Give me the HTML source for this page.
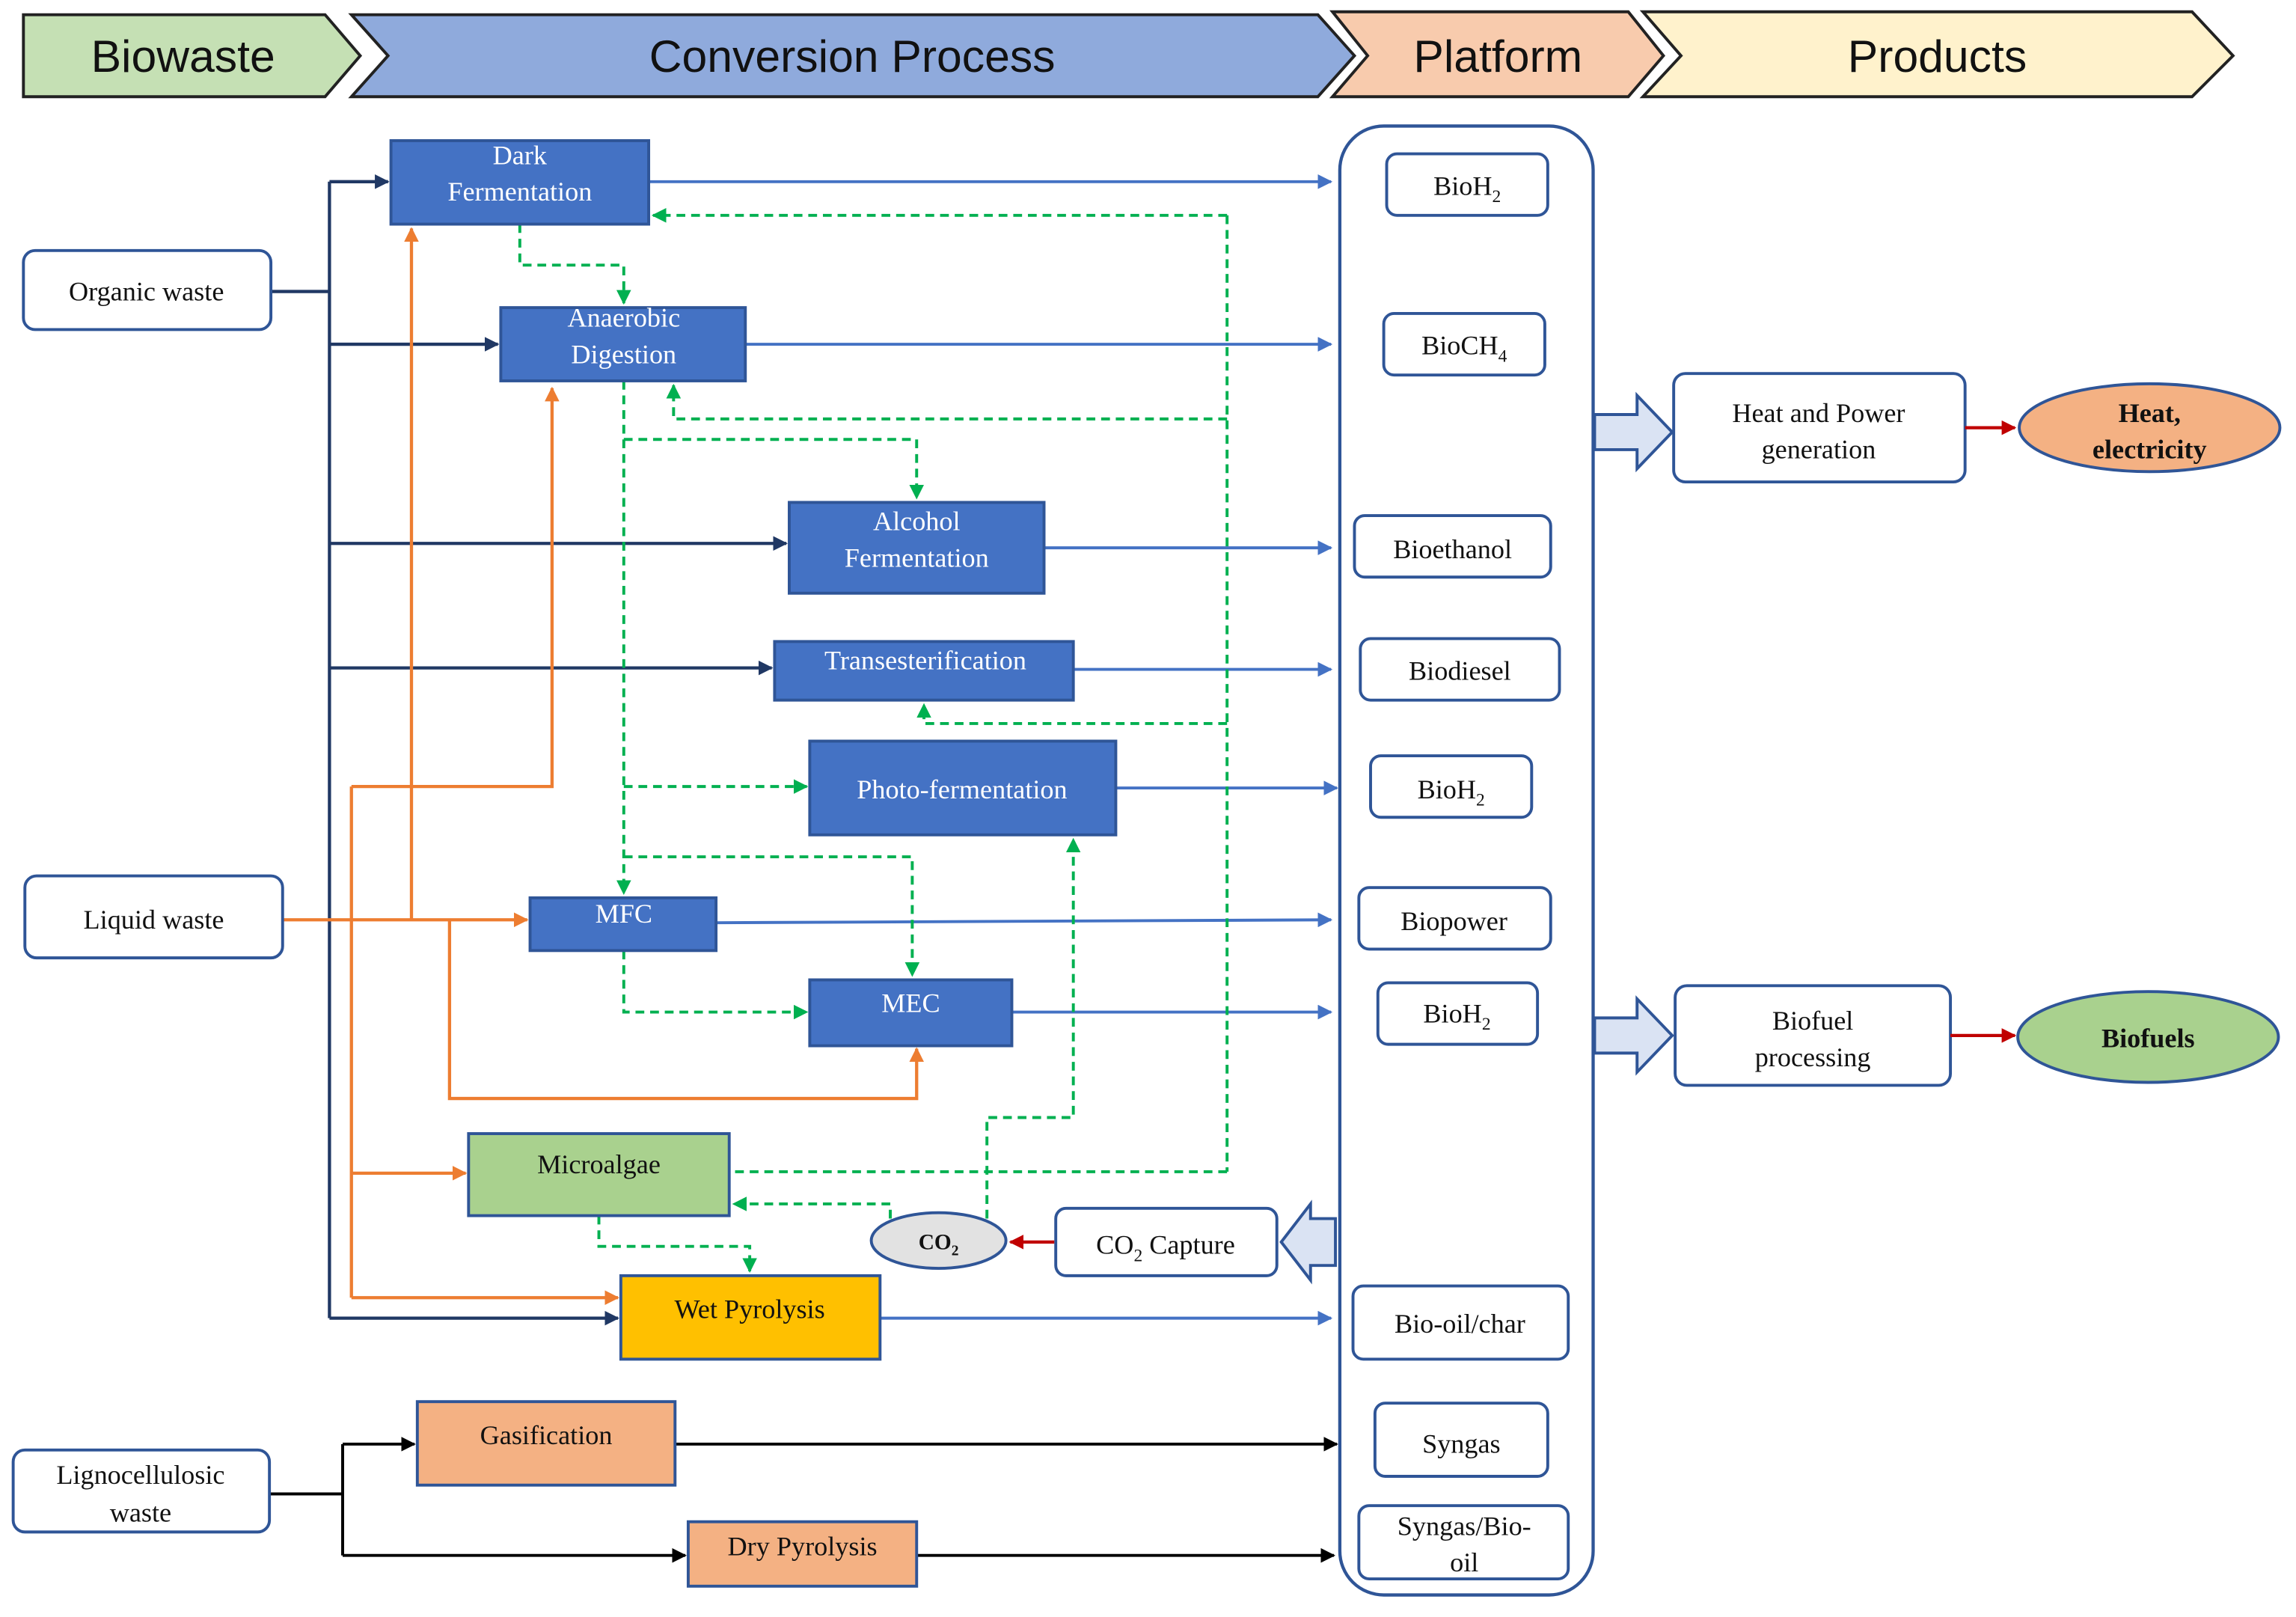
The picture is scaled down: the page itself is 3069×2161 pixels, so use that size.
<!DOCTYPE html>
<html><head><meta charset="utf-8">
<style>
html,body{margin:0;padding:0;background:#fff;}
svg{display:block;}
text{font-family:"Liberation Serif",serif;}
.h{font-family:"Liberation Sans",sans-serif;font-size:31px;fill:#111;text-anchor:middle;}
.w{fill:#fff;font-size:18.5px;text-anchor:middle;}
.k{fill:#111;font-size:18.5px;text-anchor:middle;}
.pb{fill:#4472c4;stroke:#2f5597;stroke-width:2;}
.ib{fill:#fff;stroke:#2f5597;stroke-width:2;}
.nv{stroke:#203864;stroke-width:2.2;fill:none;}
.or{stroke:#ed7d31;stroke-width:2.2;fill:none;}
.bl{stroke:#4472c4;stroke-width:2;fill:none;}
.bk{stroke:#000;stroke-width:2;fill:none;}
.gd{stroke:#00b050;stroke-width:2;fill:none;stroke-dasharray:6,4;}
</style></head><body>
<svg width="3069" height="2161" viewBox="0 0 1568 1104" xmlns="http://www.w3.org/2000/svg">
<defs>
<marker id="aN" markerWidth="10" markerHeight="10" refX="9" refY="5" orient="auto" markerUnits="userSpaceOnUse"><path d="M0,0 L10,5 L0,10z" fill="#203864"/></marker>
<marker id="aO" markerWidth="10" markerHeight="10" refX="9" refY="5" orient="auto" markerUnits="userSpaceOnUse"><path d="M0,0 L10,5 L0,10z" fill="#ed7d31"/></marker>
<marker id="aB" markerWidth="10" markerHeight="10" refX="9" refY="5" orient="auto" markerUnits="userSpaceOnUse"><path d="M0,0 L10,5 L0,10z" fill="#4472c4"/></marker>
<marker id="aK" markerWidth="10" markerHeight="10" refX="9" refY="5" orient="auto" markerUnits="userSpaceOnUse"><path d="M0,0 L10,5 L0,10z" fill="#000"/></marker>
<marker id="aG" markerWidth="10" markerHeight="10" refX="9" refY="5" orient="auto" markerUnits="userSpaceOnUse"><path d="M0,0 L10,5 L0,10z" fill="#00b050"/></marker>
<marker id="aR" markerWidth="10" markerHeight="10" refX="9" refY="5" orient="auto" markerUnits="userSpaceOnUse"><path d="M0,0 L10,5 L0,10z" fill="#c00000"/></marker>
</defs>

<!-- header chevrons -->
<path d="M16,10 L222,10 L246,38 L222,66 L16,66z" fill="#c5e0b4" stroke="#222" stroke-width="2"/>
<path d="M240,10 L900,10 L925,38 L900,66 L240,66 L265,38z" fill="#8faadc" stroke="#222" stroke-width="2"/>
<path d="M910,8 L1112,8 L1136,38 L1112,66 L910,66 L934,38z" fill="#f8cbad" stroke="#222" stroke-width="2"/>
<path d="M1122,8 L1497,8 L1525,38 L1497,66 L1122,66 L1148,38z" fill="#fff2cc" stroke="#222" stroke-width="2"/>
<text class="h" x="125" y="49">Biowaste</text>
<text class="h" x="582" y="49">Conversion Process</text>
<text class="h" x="1023" y="49">Platform</text>
<text class="h" x="1323" y="49">Products</text>

<!-- platform container -->
<rect x="915" y="86" width="173" height="1003" rx="30" fill="#fff" stroke="#2f5597" stroke-width="2.2"/>

<!-- navy trunk -->
<path class="nv" d="M185,199 L225,199 M225,124 L225,900"/>
<path class="nv" d="M225,124 L265,124" marker-end="url(#aN)"/>
<path class="nv" d="M225,235 L340,235" marker-end="url(#aN)"/>
<path class="nv" d="M225,371 L537,371" marker-end="url(#aN)"/>
<path class="nv" d="M225,456 L527,456" marker-end="url(#aN)"/>
<path class="nv" d="M225,900 L422,900" marker-end="url(#aN)"/>

<!-- orange -->
<path class="or" d="M193,628 L360,628" marker-end="url(#aO)"/>
<path class="or" d="M281,628 L281,156" marker-end="url(#aO)"/>
<path class="or" d="M240,628 L240,886 M240,537 L240,628 M240,537 L377,537 L377,265" marker-end="url(#aO)"/>
<path class="or" d="M240,801 L318,801" marker-end="url(#aO)"/>
<path class="or" d="M240,886 L422,886" marker-end="url(#aO)"/>
<path class="or" d="M307,628 L307,750 L626,750 L626,716" marker-end="url(#aO)"/>

<!-- black -->
<path class="bk" d="M184,1020 L234,1020 M234,986 L234,1062"/>
<path class="bk" d="M234,986 L283,986" marker-end="url(#aK)"/>
<path class="bk" d="M234,1062 L468,1062" marker-end="url(#aK)"/>
<path class="bk" d="M461,986 L913,986" marker-end="url(#aK)"/>
<path class="bk" d="M626,1062 L911,1062" marker-end="url(#aK)"/>

<!-- blue outputs -->
<path class="bl" d="M443,124 L909,124" marker-end="url(#aB)"/>
<path class="bl" d="M509,235 L909,235" marker-end="url(#aB)"/>
<path class="bl" d="M713,374 L909,374" marker-end="url(#aB)"/>
<path class="bl" d="M733,457 L909,457" marker-end="url(#aB)"/>
<path class="bl" d="M762,538 L913,538" marker-end="url(#aB)"/>
<path class="bl" d="M489,630 L909,628" marker-end="url(#aB)"/>
<path class="bl" d="M691,691 L909,691" marker-end="url(#aB)"/>
<path class="bl" d="M601,900 L909,900" marker-end="url(#aB)"/>

<!-- green dashed -->
<path class="gd" d="M355,153 L355,181 L426,181 L426,207" marker-end="url(#aG)"/>
<path class="gd" d="M838,147 L838,800"/>
<path class="gd" d="M838,147 L446,147" marker-end="url(#aG)"/>
<path class="gd" d="M838,286 L460,286 L460,263" marker-end="url(#aG)"/>
<path class="gd" d="M838,494 L631,494 L631,481" marker-end="url(#aG)"/>
<path class="gd" d="M838,800 L498,800"/>
<path class="gd" d="M426,260 L426,610" marker-end="url(#aG)"/>
<path class="gd" d="M426,300 L626,300 L626,340" marker-end="url(#aG)"/>
<path class="gd" d="M426,537 L551,537" marker-end="url(#aG)"/>
<path class="gd" d="M426,585 L623,585 L623,666" marker-end="url(#aG)"/>
<path class="gd" d="M426,649 L426,691 L551,691" marker-end="url(#aG)"/>
<path class="gd" d="M608,832 L608,822 L501,822" marker-end="url(#aG)"/>
<path class="gd" d="M674,832 L674,763 L733,763 L733,573" marker-end="url(#aG)"/>
<path class="gd" d="M409,830 L409,851 L512,851 L512,868" marker-end="url(#aG)"/>

<!-- process boxes -->
<rect class="pb" x="267" y="96" width="176" height="57"/>
<text class="w" x="355" y="112">Dark</text><text class="w" x="355" y="137">Fermentation</text>
<rect class="pb" x="342" y="210" width="167" height="50"/>
<text class="w" x="426" y="223">Anaerobic</text><text class="w" x="426" y="248">Digestion</text>
<rect class="pb" x="539" y="343" width="174" height="62"/>
<text class="w" x="626" y="362">Alcohol</text><text class="w" x="626" y="387">Fermentation</text>
<rect class="pb" x="529" y="438" width="204" height="40"/>
<text class="w" x="632" y="457">Transesterification</text>
<rect class="pb" x="553" y="506" width="209" height="64"/>
<text class="w" x="657" y="545">Photo-fermentation</text>
<rect class="pb" x="362" y="613" width="127" height="36"/>
<text class="w" x="426" y="630">MFC</text>
<rect class="pb" x="553" y="669" width="138" height="45"/>
<text class="w" x="622" y="691">MEC</text>
<rect x="320" y="774" width="178" height="56" fill="#a9d18e" stroke="#2f5597" stroke-width="2"/>
<text class="k" x="409" y="801">Microalgae</text>
<rect x="424" y="871" width="177" height="57" fill="#ffc000" stroke="#2f5597" stroke-width="2"/>
<text class="k" x="512" y="900">Wet Pyrolysis</text>
<rect x="285" y="957" width="176" height="57" fill="#f4b183" stroke="#2f5597" stroke-width="2"/>
<text class="k" x="373" y="986">Gasification</text>
<rect x="470" y="1039" width="156" height="44" fill="#f4b183" stroke="#2f5597" stroke-width="2"/>
<text class="k" x="548" y="1062">Dry Pyrolysis</text>

<!-- input boxes -->
<rect class="ib" x="16" y="171" width="169" height="54" rx="8"/>
<text class="k" x="100" y="205">Organic waste</text>
<rect class="ib" x="17" y="598" width="176" height="56" rx="8"/>
<text class="k" x="105" y="634">Liquid waste</text>
<rect class="ib" x="9" y="990" width="175" height="56" rx="8"/>
<text class="k" x="96" y="1013">Lignocellulosic</text><text class="k" x="96" y="1039">waste</text>

<!-- platform items -->
<rect class="ib" x="947" y="105" width="110" height="42" rx="7"/>
<text class="k" x="1002" y="133">BioH<tspan font-size="12" dy="5">2</tspan></text>
<rect class="ib" x="945" y="214" width="110" height="42" rx="7"/>
<text class="k" x="1000" y="242">BioCH<tspan font-size="12" dy="5">4</tspan></text>
<rect class="ib" x="925" y="352" width="134" height="42" rx="7"/>
<text class="k" x="992" y="381">Bioethanol</text>
<rect class="ib" x="929" y="436" width="136" height="42" rx="7"/>
<text class="k" x="997" y="464">Biodiesel</text>
<rect class="ib" x="936" y="516" width="110" height="42" rx="7"/>
<text class="k" x="991" y="545">BioH<tspan font-size="12" dy="5">2</tspan></text>
<rect class="ib" x="928" y="606" width="131" height="42" rx="7"/>
<text class="k" x="993" y="635">Biopower</text>
<rect class="ib" x="941" y="671" width="109" height="42" rx="7"/>
<text class="k" x="995" y="698">BioH<tspan font-size="12" dy="5">2</tspan></text>
<rect class="ib" x="924" y="878" width="147" height="50" rx="7"/>
<text class="k" x="997" y="910">Bio-oil/char</text>
<rect class="ib" x="939" y="958" width="118" height="50" rx="7"/>
<text class="k" x="998" y="992">Syngas</text>
<rect class="ib" x="928" y="1028" width="143" height="50" rx="7"/>
<text class="k" x="1000" y="1048">Syngas/Bio-</text><text class="k" x="1000" y="1073">oil</text>

<!-- CO2 -->
<rect class="ib" x="721" y="825" width="151" height="46" rx="7"/>
<text class="k" x="796" y="856">CO<tspan font-size="12" dy="5">2</tspan><tspan dy="-5"> Capture</tspan></text>
<path d="M912,832 L895,832 L895,822 L875,848 L895,874 L895,864 L912,864z" fill="#dae3f3" stroke="#2f5597" stroke-width="2"/>
<path d="M720,848 L690,848" stroke="#c00000" stroke-width="2.2" marker-end="url(#aR)"/>
<ellipse cx="641" cy="847" rx="46" ry="19" fill="#e2e2e2" stroke="#2f5597" stroke-width="2"/>
<text x="641" y="853" font-size="15" font-weight="bold" text-anchor="middle" fill="#111">CO<tspan font-size="10" dy="4">2</tspan></text>

<!-- right side -->
<path d="M1089,283 L1118,283 L1118,270 L1142,295 L1118,320 L1118,307 L1089,307z" fill="#dae3f3" stroke="#2f5597" stroke-width="2"/>
<path d="M1089,695 L1118,695 L1118,682 L1142,707 L1118,732 L1118,719 L1089,719z" fill="#dae3f3" stroke="#2f5597" stroke-width="2"/>
<rect class="ib" x="1143" y="255" width="199" height="74" rx="8"/>
<text class="k" x="1242" y="288">Heat and Power</text><text class="k" x="1242" y="313">generation</text>
<rect class="ib" x="1144" y="673" width="188" height="68" rx="8"/>
<text class="k" x="1238" y="703">Biofuel</text><text class="k" x="1238" y="728">processing</text>
<path d="M1342,292 L1376,292" stroke="#c00000" stroke-width="2.2" marker-end="url(#aR)"/>
<path d="M1332,707 L1376,707" stroke="#c00000" stroke-width="2.2" marker-end="url(#aR)"/>
<ellipse cx="1468" cy="292" rx="89" ry="30" fill="#f4b183" stroke="#2f5597" stroke-width="2"/>
<text class="k" x="1468" y="288" font-weight="bold">Heat,</text><text class="k" x="1468" y="313" font-weight="bold">electricity</text>
<ellipse cx="1467" cy="708" rx="89" ry="31" fill="#a9d18e" stroke="#2f5597" stroke-width="2"/>
<text class="k" x="1467" y="715" font-weight="bold">Biofuels</text>
</svg>
</body></html>
